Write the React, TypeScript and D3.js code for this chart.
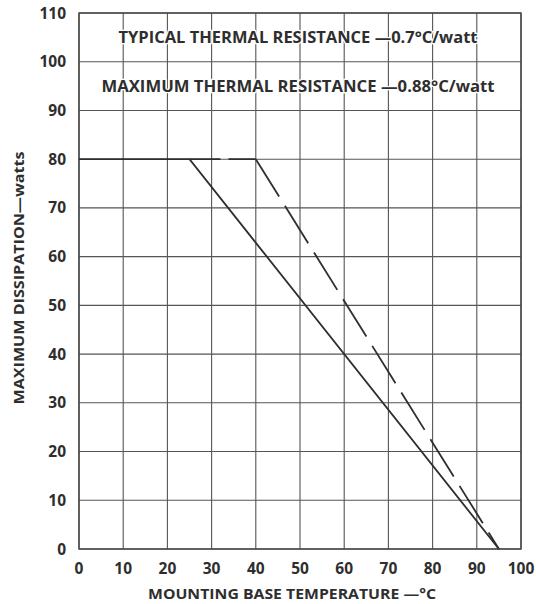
import React from "react";
import * as d3 from "d3";

const xTicks = [0, 10, 20, 30, 40, 50, 60, 70, 80, 90, 100];
const yTicks = [0, 10, 20, 30, 40, 50, 60, 70, 80, 90, 100, 110];
const typicalTemp = [0, 25, 95];
const typicalWatts = [80, 80, 0];
const maxFlatTemp = [25, 40];
const maxFlatWatts = [80, 80];
const maxSlopeTemp = [40, 95];
const maxSlopeWatts = [80, 0];
const noteTexts = [
  "TYPICAL THERMAL RESISTANCE —0.7°C/watt",
  "MAXIMUM THERMAL RESISTANCE —0.88°C/watt",
];
const noteLevels = [105, 95];
const noteWidths = [359, 393];
const xTitle = "MOUNTING BASE TEMPERATURE —°C";
const yTitle = "MAXIMUM DISSIPATION—watts";

const W = 536;
const H = 604;
const M = { left: 79, right: 521, top: 13, bottom: 549 };
const FONT = "'Open Sans', Lato, 'DejaVu Sans', sans-serif";
const INK = "#2e2e2e";

export default function App() {
  const x = d3.scaleLinear().domain([0, 100]).range([M.left, M.right]);
  const y = d3.scaleLinear().domain([0, 110]).range([M.bottom, M.top]);
  const line = (xs: number[], ys: number[]) =>
    d3
      .line<number>()
      .x((_, i) => x(xs[i]))
      .y((_, i) => y(ys[i]))(xs) as string;

  return (
    <svg
      width={W}
      height={H}
      style={{ position: "absolute", left: 0, top: 0, background: "#fff" }}
    >
      <rect x={0} y={0} width={W} height={H} fill="#fff" />
      {xTicks.map((t) => (
        <line
          key={"gx" + t}
          x1={x(t)}
          x2={x(t)}
          y1={M.top}
          y2={M.bottom}
          stroke="#555"
          strokeWidth={1.1}
        />
      ))}
      {yTicks.map((t) => (
        <line
          key={"gy" + t}
          x1={M.left}
          x2={M.right}
          y1={y(t)}
          y2={y(t)}
          stroke="#555"
          strokeWidth={1.1}
        />
      ))}
      <rect
        x={M.left}
        y={M.top}
        width={M.right - M.left}
        height={M.bottom - M.top}
        fill="none"
        stroke="#444"
        strokeWidth={1.4}
      />
      {noteTexts.map((txt, i) => (
        <text
          key={txt}
          x={x(50) - 2}
          y={y(noteLevels[i]) + 6}
          textAnchor="middle"
          fontFamily={FONT}
          fontWeight="bold"
          fontSize={15.5}
          fill={INK}
          stroke="#fff"
          strokeWidth={2.5}
          paintOrder="stroke"
          textLength={noteWidths[i]}
          lengthAdjust="spacingAndGlyphs"
        >
          {txt}
        </text>
      ))}
      <path
        d={line(typicalTemp, typicalWatts)}
        fill="none"
        stroke={INK}
        strokeWidth={1.8}
      />
      <path
        d={line(maxFlatTemp, maxFlatWatts)}
        fill="none"
        stroke={INK}
        strokeWidth={1.8}
        strokeDasharray="31 8"
      />
      <path
        d={line(maxSlopeTemp, maxSlopeWatts)}
        fill="none"
        stroke={INK}
        strokeWidth={1.8}
        strokeDasharray="44 11"
      />
      {xTicks.map((t) => (
        <text
          key={"tx" + t}
          x={x(t)}
          y={574}
          textAnchor="middle"
          fontFamily={FONT}
          fontWeight="bold"
          fontSize={15.5}
          fill={INK}
        >
          {t}
        </text>
      ))}
      {yTicks.map((t) => (
        <text
          key={"ty" + t}
          x={66}
          y={y(t) + 5.5}
          textAnchor="end"
          fontFamily={FONT}
          fontWeight="bold"
          fontSize={15.5}
          fill={INK}
        >
          {t}
        </text>
      ))}
      <text
        x={292}
        y={599}
        textAnchor="middle"
        fontFamily={FONT}
        fontWeight="bold"
        fontSize={15}
        fill={INK}
        textLength={288}
        lengthAdjust="spacingAndGlyphs"
      >
        {xTitle}
      </text>
      <text
        transform={`translate(24, ${278}) rotate(-90)`}
        textAnchor="middle"
        fontFamily={FONT}
        fontWeight="bold"
        fontSize={14.5}
        fill={INK}
        textLength={253}
        lengthAdjust="spacingAndGlyphs"
      >
        {yTitle}
      </text>
    </svg>
  );
}
